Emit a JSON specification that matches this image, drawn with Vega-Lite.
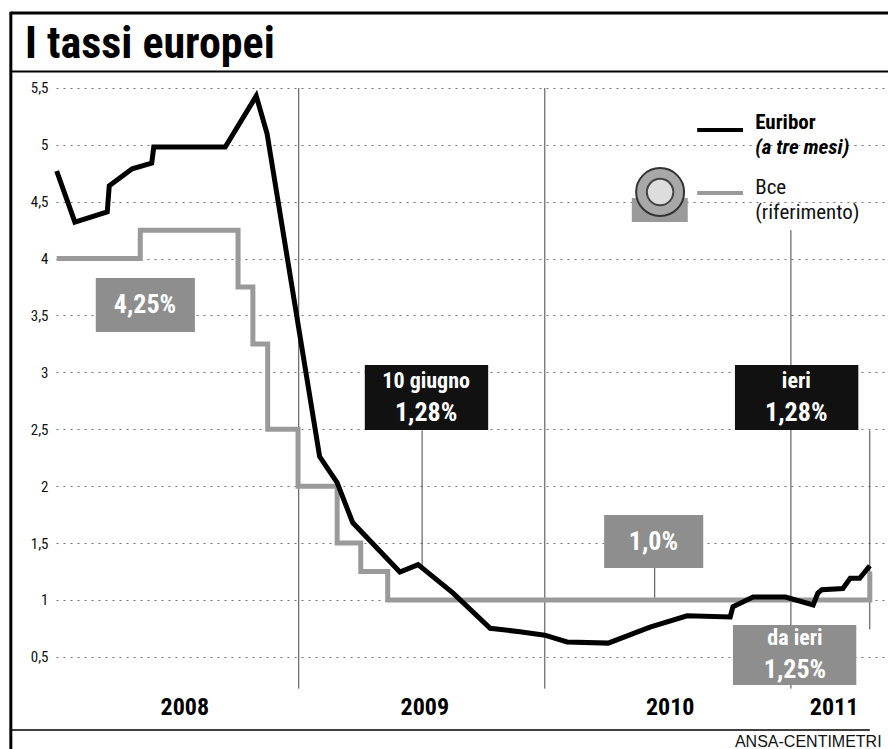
{
  "$schema": "https://vega.github.io/schema/vega-lite/v6.json",
  "width": 832,
  "height": 620,
  "autosize": {"type": "none"},
  "padding": {"left": 56, "top": 80, "right": 0, "bottom": 49},
  "background": "#ffffff",
  "config": {"view": {"stroke": null}, "font": "Roboto Condensed, Roboto, sans-serif"},
  "data": {"values": [{}]},
  "datasets": {
    "euribor": [
      {"date": "2008-01-08", "rate": 4.77},
      {"date": "2008-02-04", "rate": 4.32},
      {"date": "2008-03-23", "rate": 4.41},
      {"date": "2008-03-26", "rate": 4.64},
      {"date": "2008-04-29", "rate": 4.79},
      {"date": "2008-05-28", "rate": 4.84},
      {"date": "2008-05-31", "rate": 4.98},
      {"date": "2008-09-14", "rate": 4.98},
      {"date": "2008-10-30", "rate": 5.43},
      {"date": "2008-11-15", "rate": 5.10},
      {"date": "2009-02-01", "rate": 2.26},
      {"date": "2009-02-27", "rate": 2.03},
      {"date": "2009-03-22", "rate": 1.68},
      {"date": "2009-05-31", "rate": 1.245},
      {"date": "2009-06-27", "rate": 1.31},
      {"date": "2009-08-18", "rate": 1.06},
      {"date": "2009-10-12", "rate": 0.75},
      {"date": "2009-11-25", "rate": 0.72},
      {"date": "2010-01-01", "rate": 0.69},
      {"date": "2010-02-03", "rate": 0.63},
      {"date": "2010-04-05", "rate": 0.62},
      {"date": "2010-06-06", "rate": 0.76},
      {"date": "2010-07-31", "rate": 0.86},
      {"date": "2010-10-03", "rate": 0.85},
      {"date": "2010-10-07", "rate": 0.94},
      {"date": "2010-11-06", "rate": 1.025},
      {"date": "2010-12-24", "rate": 1.025},
      {"date": "2011-02-03", "rate": 0.955},
      {"date": "2011-02-10", "rate": 1.06},
      {"date": "2011-02-16", "rate": 1.09},
      {"date": "2011-03-19", "rate": 1.10},
      {"date": "2011-03-30", "rate": 1.19},
      {"date": "2011-04-13", "rate": 1.19},
      {"date": "2011-04-28", "rate": 1.30}
    ],
    "bce": [
      {"date": "2008-01-08", "rate": 4.00},
      {"date": "2008-05-11", "rate": 4.25},
      {"date": "2008-10-03", "rate": 3.75},
      {"date": "2008-10-25", "rate": 3.25},
      {"date": "2008-11-16", "rate": 2.50},
      {"date": "2008-12-31", "rate": 2.00},
      {"date": "2009-02-27", "rate": 1.50},
      {"date": "2009-04-03", "rate": 1.25},
      {"date": "2009-05-13", "rate": 1.00},
      {"date": "2011-04-28", "rate": 1.25}
    ],
    "years": [
      {"date": "2009-01-01", "from": 5.5},
      {"date": "2010-01-01", "from": 5.5},
      {"date": "2011-01-01", "from": 4.25}
    ],
    "yearlabels": [
      {"date": "2008-07-16", "year": "2008"},
      {"date": "2009-07-07", "year": "2009"},
      {"date": "2010-07-06", "year": "2010"},
      {"date": "2011-03-06", "year": "2011"}
    ],
    "pointers": [
      {"date": "2009-07-03", "from": 1.28, "to": 2.49},
      {"date": "2010-06-13", "from": 1.0, "to": 1.28},
      {"date": "2011-04-28", "from": 0.74, "to": 2.49}
    ],
    "boxes": [
      {"start": "2008-03-06", "end": "2008-07-31", "top": 3.829, "bottom": 3.355, "series": "Bce"},
      {"start": "2009-04-09", "end": "2009-10-09", "top": 3.065, "bottom": 2.493, "series": "Euribor"},
      {"start": "2010-10-10", "end": "2011-04-11", "top": 3.065, "bottom": 2.493, "series": "Euribor"},
      {"start": "2010-03-30", "end": "2010-08-24", "top": 1.746, "bottom": 1.28, "series": "Bce"},
      {"start": "2010-10-07", "end": "2011-04-08", "top": 0.779, "bottom": 0.252, "series": "Bce"}
    ],
    "notes": [
      {"date": "2008-05-18", "rate": 3.592, "text": "4,25%", "kind": "value"},
      {"date": "2009-07-09", "rate": 2.924, "text": "10 giugno", "kind": "caption"},
      {"date": "2009-07-09", "rate": 2.643, "text": "1,28%", "kind": "value"},
      {"date": "2011-01-09", "rate": 2.924, "text": "ieri", "kind": "caption"},
      {"date": "2011-01-09", "rate": 2.643, "text": "1,28%", "kind": "value"},
      {"date": "2010-06-11", "rate": 1.513, "text": "1,0%", "kind": "value"},
      {"date": "2011-01-07", "rate": 0.665, "text": "da ieri", "kind": "caption"},
      {"date": "2011-01-07", "rate": 0.38, "text": "1,25%", "kind": "value"}
    ]
  },
  "layer": [
    {
      "data": {"name": "years"},
      "mark": {"type": "rule", "color": "#444444", "strokeWidth": 1},
      "encoding": {
        "x": {"field": "date", "type": "temporal", "axis": null, "scale": {"type": "utc", "nice": false, "domain": [{"year": 2008, "month": 1, "date": 7, "utc": true}, {"year": 2011, "month": 5, "date": 25, "utc": true}]}},
        "y": {"field": "from", "type": "quantitative", "title": null, "scale": {"domain": [0.12, 5.57], "nice": false, "zero": false},
              "axis": {"values": [0.5, 1, 1.5, 2, 2.5, 3, 3.5, 4, 4.5, 5, 5.5], "labelExpr": "replace(format(datum.value, '.1~f'), '.', ',')", "title": null, "grid": true, "gridDash": [2, 5], "gridColor": "#777777", "gridWidth": 1, "domain": false, "ticks": false, "labelPadding": 8, "labelFontSize": 15, "labelColor": "#111111", "labelFont": "Roboto Condensed, Roboto, sans-serif"}},
        "y2": {"datum": 0.22}
      }
    },
    {
      "data": {"name": "pointers"},
      "mark": {"type": "rule", "color": "#444444", "strokeWidth": 1},
      "encoding": {
        "x": {"field": "date", "type": "temporal", "axis": null},
        "y": {"field": "from", "type": "quantitative", "title": null},
        "y2": {"field": "to"}
      }
    },
    {
      "data": {"name": "bce"},
      "mark": {"type": "line", "interpolate": "step-after", "color": "#9a9a9a", "strokeWidth": 5},
      "encoding": {
        "x": {"field": "date", "type": "temporal", "axis": null},
        "y": {"field": "rate", "type": "quantitative", "title": null}
      }
    },
    {
      "data": {"name": "euribor"},
      "mark": {"type": "line", "color": "#000000", "strokeWidth": 5},
      "encoding": {
        "x": {"field": "date", "type": "temporal", "axis": null},
        "y": {"field": "rate", "type": "quantitative", "title": null}
      }
    },
    {
      "data": {"name": "boxes"},
      "mark": {"type": "rect"},
      "encoding": {
        "x": {"field": "start", "type": "temporal", "axis": null},
        "x2": {"field": "end"},
        "y": {"field": "top", "type": "quantitative", "title": null},
        "y2": {"field": "bottom"},
        "fill": {"field": "series", "type": "nominal", "legend": null, "scale": {"domain": ["Euribor", "Bce"], "range": ["#111111", "#8e8e8e"]}}
      }
    },
    {
      "data": {"name": "notes"},
      "transform": [{"filter": "datum.kind == 'value'"}],
      "mark": {"type": "text", "font": "Roboto Condensed, Roboto, sans-serif", "fontSize": 26, "fontWeight": "bold", "color": "#ffffff", "align": "center", "baseline": "middle"},
      "encoding": {
        "x": {"field": "date", "type": "temporal", "axis": null},
        "y": {"field": "rate", "type": "quantitative", "title": null},
        "text": {"field": "text"}
      }
    },
    {
      "data": {"name": "notes"},
      "transform": [{"filter": "datum.kind == 'caption'"}],
      "mark": {"type": "text", "font": "Roboto Condensed, Roboto, sans-serif", "fontSize": 22, "fontWeight": "bold", "color": "#ffffff", "align": "center", "baseline": "middle"},
      "encoding": {
        "x": {"field": "date", "type": "temporal", "axis": null},
        "y": {"field": "rate", "type": "quantitative", "title": null},
        "text": {"field": "text"}
      }
    },
    {
      "data": {"name": "yearlabels"},
      "mark": {"type": "text", "font": "Roboto Condensed, Roboto, sans-serif", "fontSize": 24, "fontWeight": "bold", "color": "#000000", "align": "center", "baseline": "middle"},
      "encoding": {
        "x": {"field": "date", "type": "temporal", "axis": null},
        "y": {"datum": 0.05, "type": "quantitative", "title": null},
        "text": {"field": "year"}
      }
    },
    {
      "mark": {"type": "rule", "color": "#000000", "strokeWidth": 4},
      "encoding": {
        "x": {"datum": {"year": 2010, "month": 8, "date": 15, "utc": true}, "type": "temporal", "axis": null},
        "x2": {"datum": {"year": 2010, "month": 10, "date": 22, "utc": true}},
        "y": {"datum": 5.13, "type": "quantitative", "title": null}
      }
    },
    {
      "mark": {"type": "rule", "color": "#9a9a9a", "strokeWidth": 4},
      "encoding": {
        "x": {"datum": {"year": 2010, "month": 8, "date": 15, "utc": true}, "type": "temporal", "axis": null},
        "x2": {"datum": {"year": 2010, "month": 10, "date": 22, "utc": true}},
        "y": {"datum": 4.577, "type": "quantitative", "title": null}
      }
    },
    {
      "mark": {"type": "text", "text": "Euribor", "font": "Roboto Condensed, Roboto, sans-serif", "fontSize": 21, "fontWeight": "bold", "color": "#000000", "align": "left", "baseline": "alphabetic"},
      "encoding": {
        "x": {"datum": {"year": 2010, "month": 11, "date": 9, "utc": true}, "type": "temporal", "axis": null},
        "y": {"datum": 5.139, "type": "quantitative", "title": null}
      }
    },
    {
      "mark": {"type": "text", "text": "(a tre mesi)", "font": "Roboto Condensed, Roboto, sans-serif", "fontSize": 21, "fontWeight": "bold", "fontStyle": "italic", "color": "#000000", "align": "left", "baseline": "alphabetic"},
      "encoding": {
        "x": {"datum": {"year": 2010, "month": 11, "date": 9, "utc": true}, "type": "temporal", "axis": null},
        "y": {"datum": 4.92, "type": "quantitative", "title": null}
      }
    },
    {
      "mark": {"type": "text", "text": "Bce", "font": "Roboto Condensed, Roboto, sans-serif", "fontSize": 21, "color": "#111111", "align": "left", "baseline": "alphabetic"},
      "encoding": {
        "x": {"datum": {"year": 2010, "month": 11, "date": 9, "utc": true}, "type": "temporal", "axis": null},
        "y": {"datum": 4.568, "type": "quantitative", "title": null}
      }
    },
    {
      "mark": {"type": "text", "text": "(riferimento)", "font": "Roboto Condensed, Roboto, sans-serif", "fontSize": 21, "color": "#111111", "align": "left", "baseline": "alphabetic"},
      "encoding": {
        "x": {"datum": {"year": 2010, "month": 11, "date": 9, "utc": true}, "type": "temporal", "axis": null},
        "y": {"datum": 4.348, "type": "quantitative", "title": null}
      }
    },
    {
      "mark": {"type": "rect", "color": "#9a9a9a"},
      "encoding": {
        "x": {"datum": {"year": 2010, "month": 5, "date": 10, "utc": true}, "type": "temporal", "axis": null},
        "x2": {"datum": {"year": 2010, "month": 8, "date": 1, "utc": true}},
        "y": {"datum": 4.533, "type": "quantitative", "title": null},
        "y2": {"datum": 4.322}
      }
    },
    {
      "mark": {"type": "point", "shape": "circle", "filled": true, "size": 2304, "fill": "#a8a8a8", "stroke": "#333333", "strokeWidth": 2, "opacity": 1},
      "encoding": {
        "x": {"datum": {"year": 2010, "month": 6, "date": 21, "utc": true}, "type": "temporal", "axis": null},
        "y": {"datum": 4.585, "type": "quantitative", "title": null}
      }
    },
    {
      "mark": {"type": "point", "shape": "circle", "filled": true, "size": 700, "fill": "#dddddd", "stroke": "#444444", "strokeWidth": 2, "opacity": 1},
      "encoding": {
        "x": {"datum": {"year": 2010, "month": 6, "date": 21, "utc": true}, "type": "temporal", "axis": null},
        "y": {"datum": 4.585, "type": "quantitative", "title": null}
      }
    },
    {
      "mark": {"type": "rule", "color": "#000000", "strokeWidth": 3},
      "encoding": {
        "x": {"datum": {"year": 2007, "month": 11, "date": 1, "utc": true}, "type": "temporal", "axis": null},
        "y": {"datum": 6.17, "type": "quantitative", "title": null},
        "y2": {"datum": -0.32}
      }
    },
    {
      "mark": {"type": "rule", "color": "#000000", "strokeWidth": 3},
      "encoding": {
        "x": {"datum": {"year": 2007, "month": 11, "date": 1, "utc": true}, "type": "temporal", "axis": null},
        "x2": {"datum": {"year": 2011, "month": 6, "date": 30, "utc": true}},
        "y": {"datum": 6.16, "type": "quantitative", "title": null}
      }
    },
    {
      "mark": {"type": "rule", "color": "#000000", "strokeWidth": 2},
      "encoding": {
        "x": {"datum": {"year": 2007, "month": 11, "date": 1, "utc": true}, "type": "temporal", "axis": null},
        "x2": {"datum": {"year": 2011, "month": 6, "date": 30, "utc": true}},
        "y": {"datum": 5.645, "type": "quantitative", "title": null}
      }
    },
    {
      "mark": {"type": "rule", "color": "#000000", "strokeWidth": 1.5},
      "encoding": {
        "x": {"datum": {"year": 2007, "month": 11, "date": 1, "utc": true}, "type": "temporal", "axis": null},
        "x2": {"datum": {"year": 2011, "month": 4, "date": 28, "utc": true}},
        "y": {"datum": -0.144, "type": "quantitative", "title": null}
      }
    },
    {
      "mark": {"type": "text", "text": "I tassi europei", "font": "Roboto Condensed, Roboto, sans-serif", "fontSize": 44, "fontWeight": "bold", "color": "#000000", "align": "left", "baseline": "alphabetic"},
      "encoding": {
        "x": {"datum": {"year": 2007, "month": 11, "date": 22, "utc": true}, "type": "temporal", "axis": null},
        "y": {"datum": 5.763, "type": "quantitative", "title": null}
      }
    },
    {
      "mark": {"type": "text", "text": "ANSA-CENTIMETRI", "font": "Liberation Sans, Arial, sans-serif", "fontSize": 16, "color": "#111111", "align": "left", "baseline": "alphabetic"},
      "encoding": {
        "x": {"datum": {"year": 2010, "month": 10, "date": 10, "utc": true}, "type": "temporal", "axis": null},
        "y": {"datum": -0.293, "type": "quantitative", "title": null}
      }
    }
  ]
}
